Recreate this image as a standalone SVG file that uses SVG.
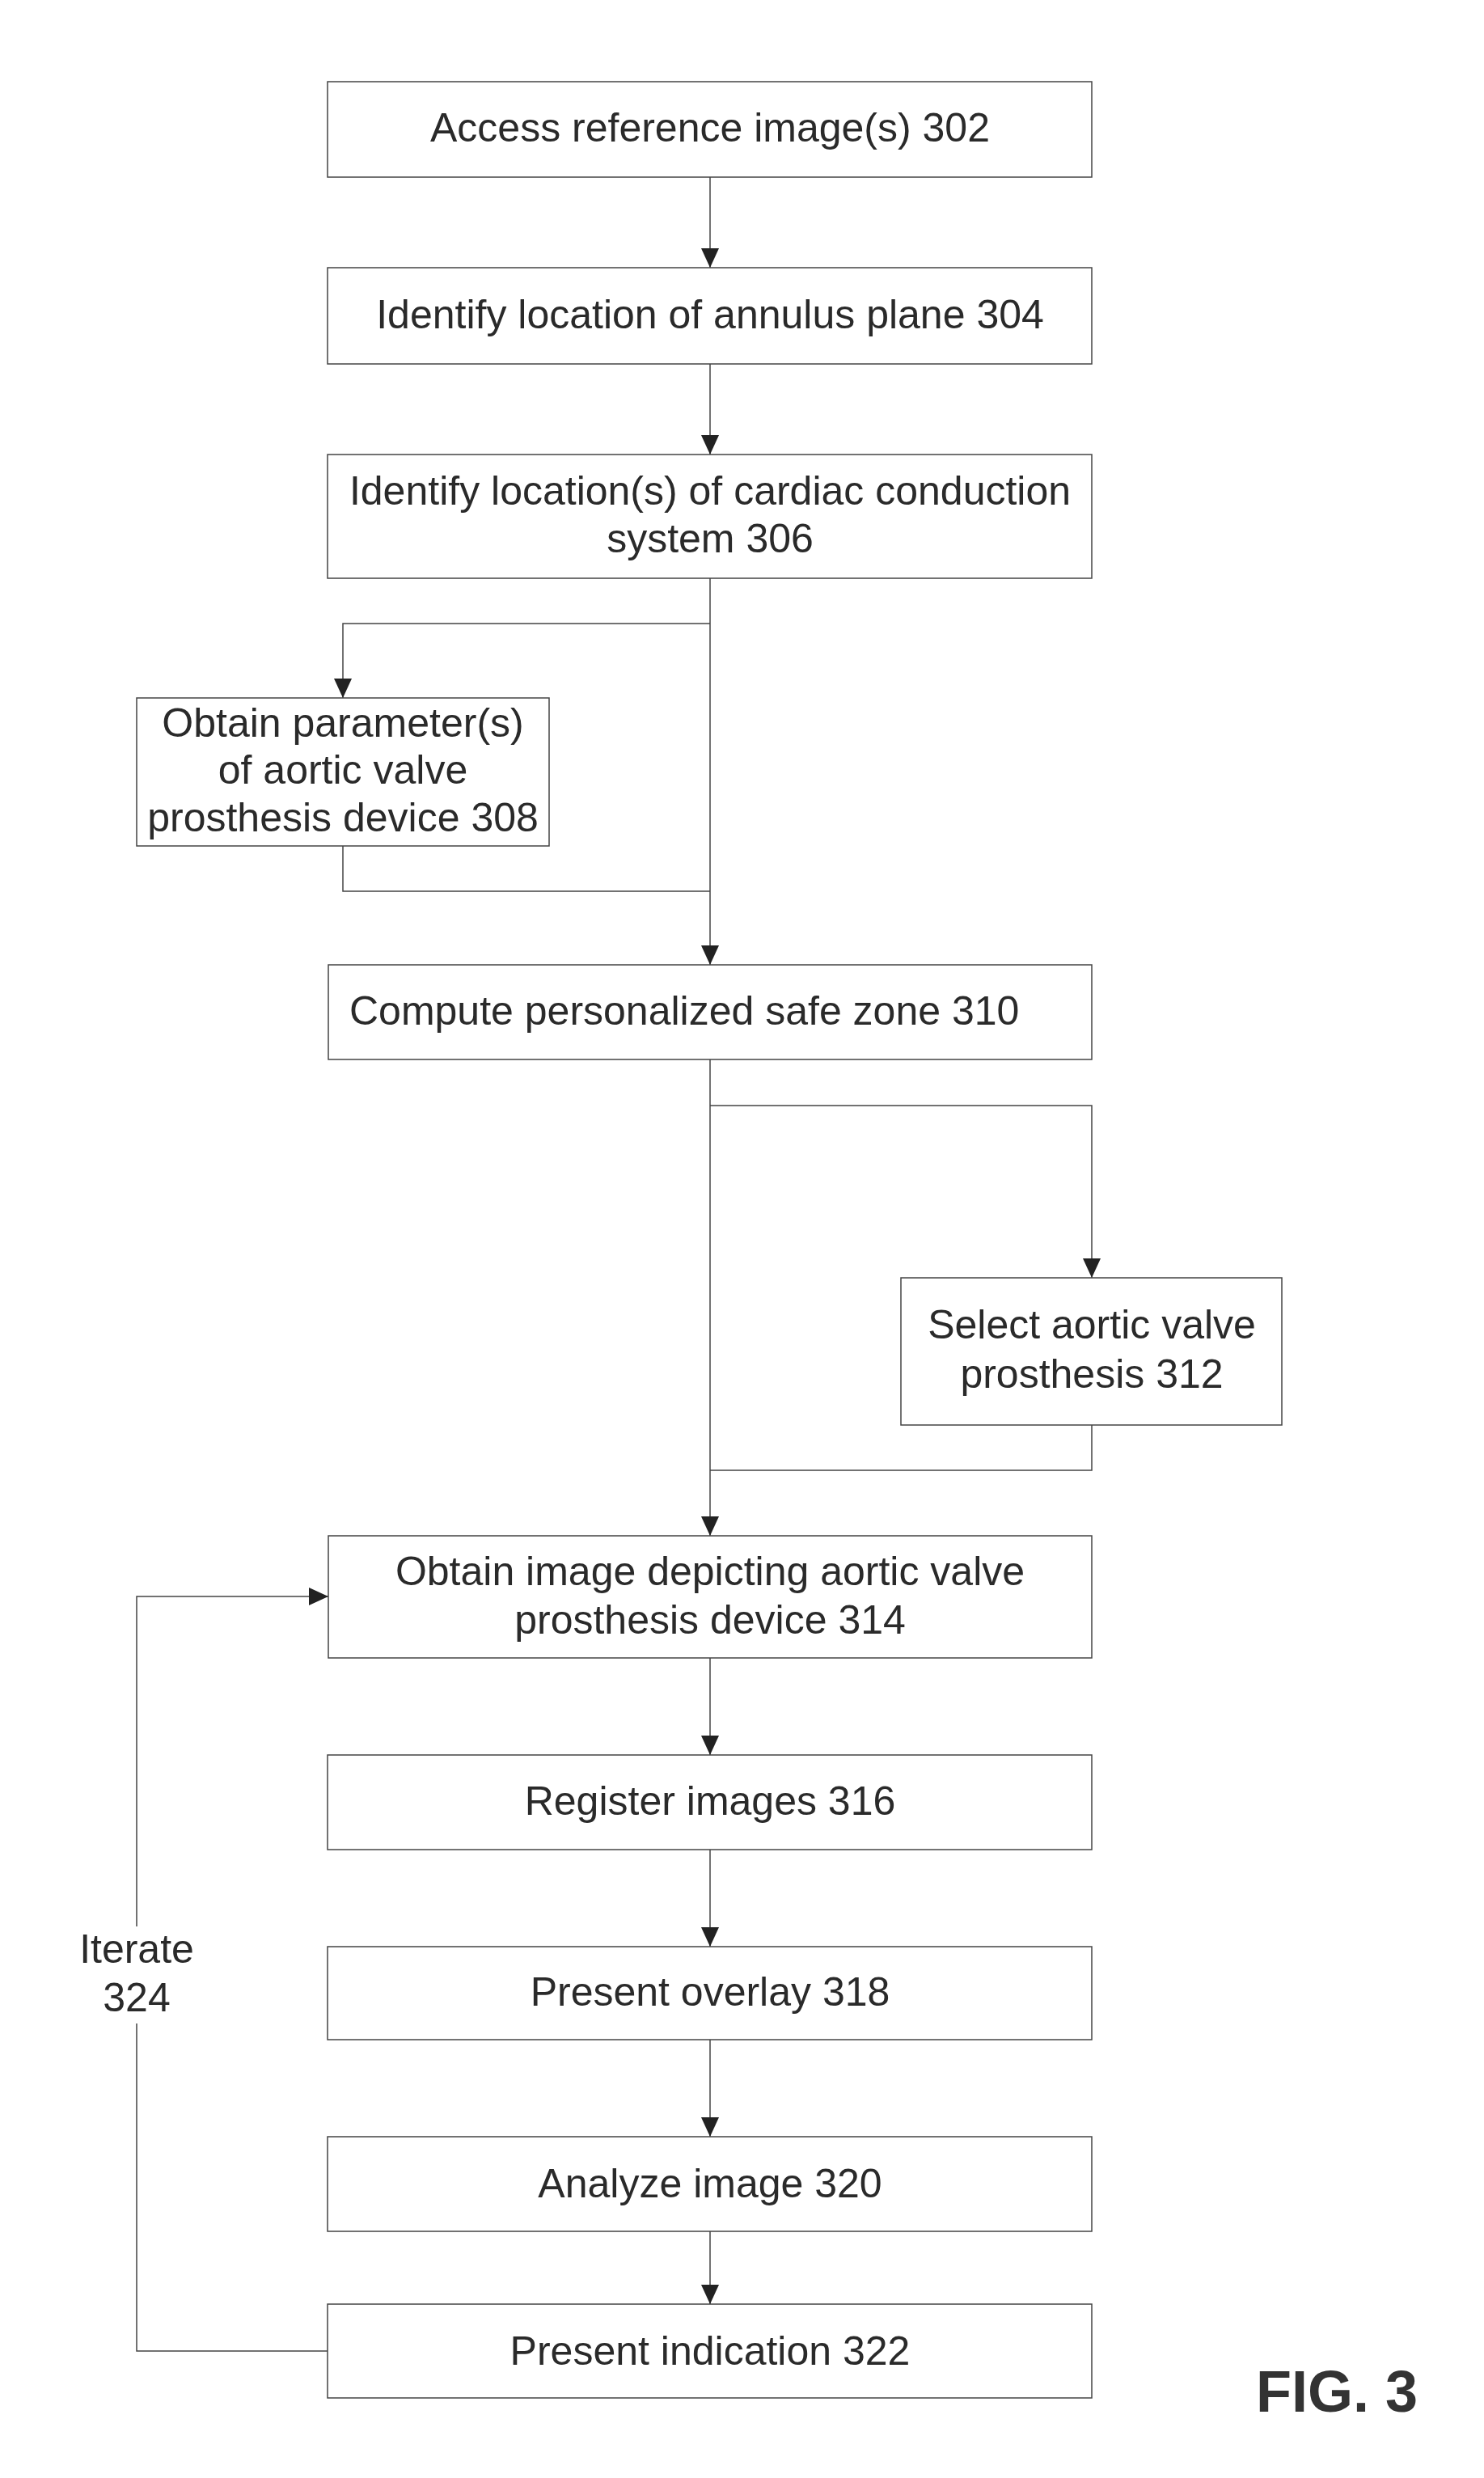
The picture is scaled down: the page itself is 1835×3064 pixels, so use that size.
<svg xmlns="http://www.w3.org/2000/svg" width="1835" height="3064" viewBox="0 0 1835 3064">
<style>
.box{fill:#fff;stroke:#444;stroke-width:1.5}
.t{font-family:"Liberation Sans",Arial,sans-serif;font-size:50px;fill:#2a2a2a;text-anchor:middle}
.ln{fill:none;stroke:#444;stroke-width:1.5}
.fig{font-family:"Liberation Sans",Arial,sans-serif;font-size:72px;font-weight:bold;fill:#333}
</style>
<defs>
<marker id="ah" markerWidth="24" markerHeight="22" refX="24" refY="11" orient="auto" markerUnits="userSpaceOnUse">
<path d="M0,0 L24,11 L0,22 Z" fill="#222"/>
</marker>
</defs>
<rect width="1835" height="3064" fill="#fff"/>
<g id="connectors">
<path class="ln" d="M878,219 V331" marker-end="url(#ah)"/>
<path class="ln" d="M878,450 V562" marker-end="url(#ah)"/>
<path class="ln" d="M878,715 V1193" marker-end="url(#ah)"/>
<path class="ln" d="M878,771 H424 V863" marker-end="url(#ah)"/>
<path class="ln" d="M424,1046 V1102 H878"/>
<path class="ln" d="M878,1310 V1899" marker-end="url(#ah)"/>
<path class="ln" d="M878,1367 H1350 V1580" marker-end="url(#ah)"/>
<path class="ln" d="M1350,1762 V1818 H878"/>
<path class="ln" d="M878,2050 V2170" marker-end="url(#ah)"/>
<path class="ln" d="M878,2287 V2407" marker-end="url(#ah)"/>
<path class="ln" d="M878,2522 V2642" marker-end="url(#ah)"/>
<path class="ln" d="M878,2759 V2849" marker-end="url(#ah)"/>
<path class="ln" d="M405,2907 H169 V2502"/>
<path class="ln" d="M169,2382 V1974 H406" marker-end="url(#ah)"/>
<text class="t" x="169" y="2427">Iterate</text>
<text class="t" x="169" y="2487">324</text>
</g>
<g id="n302">
<rect class="box" x="405" y="101" width="945" height="118"/>
<text class="t" x="878" y="175">Access reference image(s) 302</text>
</g>
<g id="n304">
<rect class="box" x="405" y="331" width="945" height="119"/>
<text class="t" x="878" y="406">Identify location of annulus plane 304</text>
</g>
<g id="n306">
<rect class="box" x="405" y="562" width="945" height="153"/>
<text class="t" x="878" y="624">Identify location(s) of cardiac conduction</text>
<text class="t" x="878" y="683">system 306</text>
</g>
<g id="n308">
<rect class="box" x="169" y="863" width="510" height="183"/>
<text class="t" x="424" y="911">Obtain parameter(s)</text>
<text class="t" x="424" y="969">of aortic valve</text>
<text class="t" x="424" y="1028">prosthesis device 308</text>
</g>
<g id="n310">
<rect class="box" x="406" y="1193" width="944" height="117"/>
<text class="t" x="432" y="1267" style="text-anchor:start">Compute personalized safe zone 310</text>
</g>
<g id="n312">
<rect class="box" x="1114" y="1580" width="471" height="182"/>
<text class="t" x="1350" y="1655">Select aortic valve</text>
<text class="t" x="1350" y="1716">prosthesis 312</text>
</g>
<g id="n314">
<rect class="box" x="406" y="1899" width="944" height="151"/>
<text class="t" x="878" y="1960">Obtain image depicting aortic valve</text>
<text class="t" x="878" y="2020">prosthesis device 314</text>
</g>
<g id="n316">
<rect class="box" x="405" y="2170" width="945" height="117"/>
<text class="t" x="878" y="2244">Register images 316</text>
</g>
<g id="n318">
<rect class="box" x="405" y="2407" width="945" height="115"/>
<text class="t" x="878" y="2480">Present overlay 318</text>
</g>
<g id="n320">
<rect class="box" x="405" y="2642" width="945" height="117"/>
<text class="t" x="878" y="2717">Analyze image 320</text>
</g>
<g id="n322">
<rect class="box" x="405" y="2849" width="945" height="116"/>
<text class="t" x="878" y="2924">Present indication 322</text>
</g>
<text class="fig" x="1553" y="2982">FIG. 3</text>
</svg>
